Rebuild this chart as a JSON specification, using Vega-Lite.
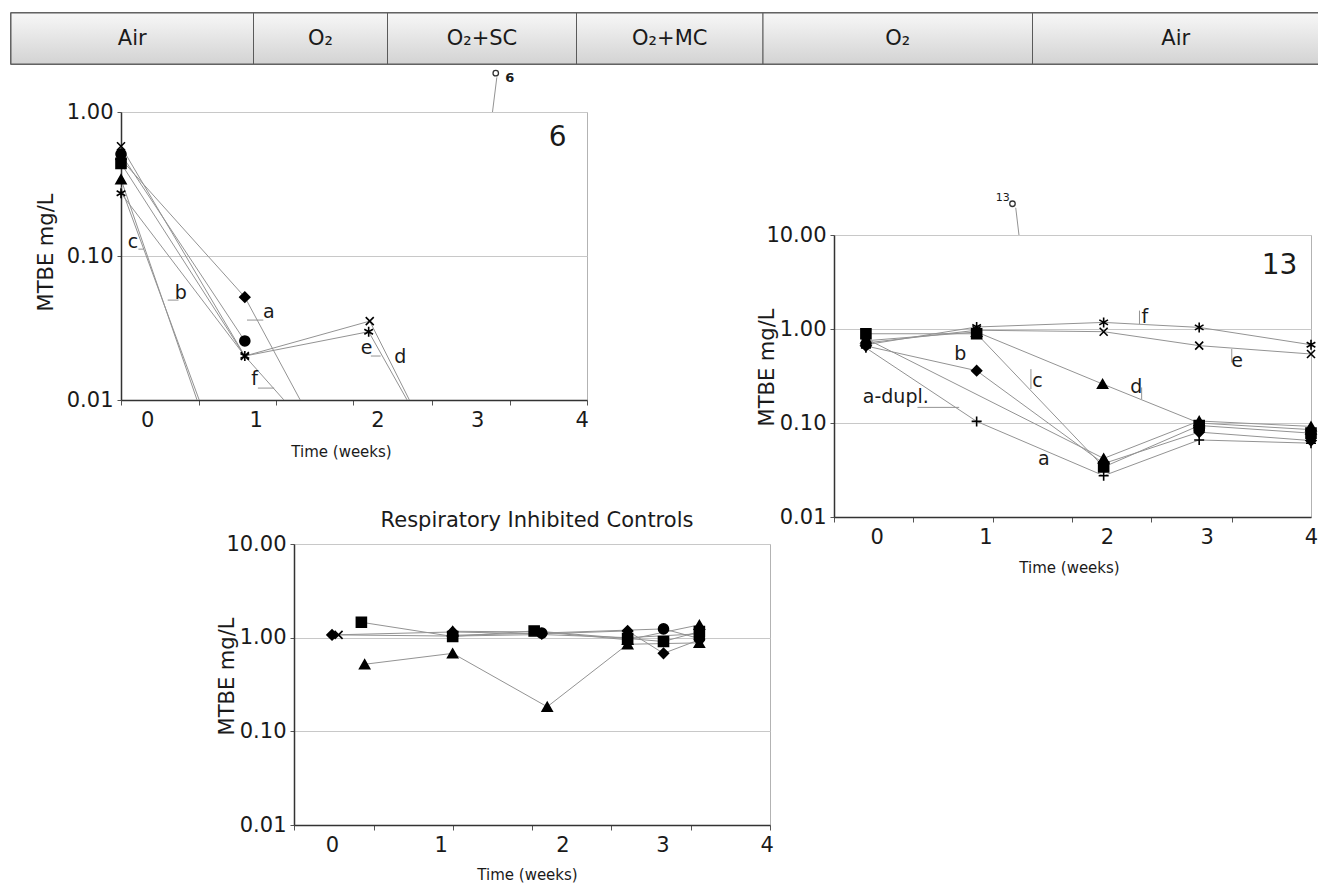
{
  "$schema": "https://vega.github.io/schema/vega-lite/v6.json",
  "padding": {"left": 9, "top": 11, "right": 0, "bottom": 4},
  "background": "white",
  "bounds": "flush",
  "spacing": 48,
  "config": {
    "font": "DejaVu Sans",
    "view": {"stroke": "#b3b3b3", "strokeWidth": 1},
    "axis": {"labelFont": "DejaVu Sans", "titleFont": "DejaVu Sans", "labelColor": "#1a1a1a", "titleColor": "#1a1a1a", "titleFontWeight": "normal"},
    "text": {"font": "DejaVu Sans"},
    "title": {"font": "DejaVu Sans"}
  },
  "datasets": {
    "hdr": [
      {"seg": "Air", "a": 0, "b": 242.5},
      {"seg": "O₂", "a": 242.5, "b": 376.5},
      {"seg": "O₂+SC", "a": 376.5, "b": 565.5},
      {"seg": "O₂+MC", "a": 565.5, "b": 752},
      {"seg": "O₂", "a": 752, "b": 1021.5},
      {"seg": "Air", "a": 1021.5, "b": 1308}
    ],
    "p6": [
      {"s": "a", "m": "diamond", "t": -0.24, "v": 0.47},
      {"s": "a", "m": "diamond", "t": 0.9, "v": 0.0518},
      {"s": "a", "m": "none", "t": 1.41, "v": 0.01},
      {"s": "ci", "m": "circle", "t": -0.24, "v": 0.51},
      {"s": "ci", "m": "circle", "t": 0.9, "v": 0.0257},
      {"s": "f", "m": "square", "t": -0.24, "v": 0.44},
      {"s": "f", "m": "none", "t": 0.9, "v": 0.0202},
      {"s": "f", "m": "none", "t": 1.26, "v": 0.01},
      {"s": "e", "m": "asterisk", "t": -0.24, "v": 0.273},
      {"s": "e", "m": "asterisk", "t": 0.9, "v": 0.0202},
      {"s": "e", "m": "asterisk", "t": 2.04, "v": 0.0298},
      {"s": "e", "m": "none", "t": 2.394, "v": 0.01},
      {"s": "d", "m": "x", "t": -0.24, "v": 0.578},
      {"s": "d", "m": "x", "t": 0.9, "v": 0.0202},
      {"s": "d", "m": "x", "t": 2.05, "v": 0.0353},
      {"s": "d", "m": "none", "t": 2.415, "v": 0.01},
      {"s": "c", "m": "triangle", "t": -0.24, "v": 0.341},
      {"s": "c", "m": "none", "t": 0.46, "v": 0.01},
      {"s": "b", "m": "none", "t": -0.24, "v": 0.3},
      {"s": "b", "m": "none", "t": 0.48, "v": 0.01}
    ],
    "p6lab": [
      {"txt": "a", "k": "lab", "t": 1.12, "v": 0.0408},
      {"txt": "b", "k": "lab", "t": 0.31, "v": 0.0552},
      {"txt": "c", "k": "lab", "t": -0.13, "v": 0.125},
      {"txt": "f", "k": "lab", "t": 0.99, "v": 0.014},
      {"txt": "e", "k": "lab", "t": 2.02, "v": 0.0229},
      {"txt": "d", "k": "lab", "t": 2.33, "v": 0.0199},
      {"txt": "6", "k": "num", "t": 3.78, "v": 0.656},
      {"txt": "6", "k": "call", "t": 3.34, "v": 1.72}
    ],
    "p6lead": [
      {"t": 0.92, "v": 0.0359, "t2": 1.07, "v2": 0.0359},
      {"t": 0.19, "v": 0.0494, "t2": 0.29, "v2": 0.0494},
      {"t": -0.08, "v": 0.1116, "t2": -0.03, "v2": 0.1116},
      {"t": 1.02, "v": 0.0121, "t2": 1.17, "v2": 0.0121},
      {"t": 2.06, "v": 0.0202, "t2": 2.15, "v2": 0.0202},
      {"t": 3.22, "v": 1.74, "t2": 3.18, "v2": 1.0}
    ],
    "p6ann": [{"t": 3.21, "v": 1.86}],
    "p13": [
      {"s": "a", "m": "triangle", "t": -0.1, "v": 0.79},
      {"s": "a", "m": "triangle", "t": 2.09, "v": 0.042},
      {"s": "a", "m": "triangle", "t": 2.97, "v": 0.105},
      {"s": "a", "m": "triangle", "t": 4.0, "v": 0.092},
      {"s": "ad", "m": "plus", "t": -0.1, "v": 0.63},
      {"s": "ad", "m": "plus", "t": 0.92, "v": 0.104},
      {"s": "ad", "m": "plus", "t": 2.09, "v": 0.0275},
      {"s": "ad", "m": "plus", "t": 2.97, "v": 0.066},
      {"s": "ad", "m": "plus", "t": 4.0, "v": 0.061},
      {"s": "b", "m": "diamond", "t": -0.1, "v": 0.66},
      {"s": "b", "m": "diamond", "t": 0.92, "v": 0.36},
      {"s": "b", "m": "diamond", "t": 2.09, "v": 0.037},
      {"s": "b", "m": "diamond", "t": 2.97, "v": 0.08},
      {"s": "b", "m": "diamond", "t": 4.0, "v": 0.065},
      {"s": "c", "m": "square", "t": -0.1, "v": 0.89},
      {"s": "c", "m": "square", "t": 0.92, "v": 0.89},
      {"s": "c", "m": "square", "t": 2.09, "v": 0.034},
      {"s": "c", "m": "square", "t": 2.97, "v": 0.094},
      {"s": "c", "m": "square", "t": 4.0, "v": 0.078},
      {"s": "d", "m": "triangle", "t": -0.1, "v": 0.75},
      {"s": "d", "m": "triangle", "t": 0.92, "v": 0.93},
      {"s": "d", "m": "triangle", "t": 2.08, "v": 0.26},
      {"s": "d", "m": "triangle", "t": 2.97, "v": 0.1},
      {"s": "d", "m": "triangle", "t": 4.0, "v": 0.085},
      {"s": "e", "m": "x", "t": -0.1, "v": 0.71},
      {"s": "e", "m": "x", "t": 0.92, "v": 0.97},
      {"s": "e", "m": "x", "t": 2.09, "v": 0.936},
      {"s": "e", "m": "x", "t": 2.97, "v": 0.665},
      {"s": "e", "m": "x", "t": 4.0, "v": 0.542},
      {"s": "f", "m": "asterisk", "t": -0.1, "v": 0.68},
      {"s": "f", "m": "asterisk", "t": 0.92, "v": 1.05},
      {"s": "f", "m": "asterisk", "t": 2.09, "v": 1.175},
      {"s": "f", "m": "asterisk", "t": 2.97, "v": 1.04},
      {"s": "f", "m": "asterisk", "t": 4.0, "v": 0.68}
    ],
    "p13lab": [
      {"txt": "f", "k": "lab", "t": 2.47, "v": 1.33},
      {"txt": "e", "k": "lab", "t": 3.32, "v": 0.46},
      {"txt": "b", "k": "lab", "t": 0.77, "v": 0.54},
      {"txt": "c", "k": "lab", "t": 1.48, "v": 0.28},
      {"txt": "d", "k": "lab", "t": 2.39, "v": 0.239},
      {"txt": "a", "k": "lab", "t": 1.54, "v": 0.0414},
      {"txt": "a-dupl.", "k": "lab", "t": 0.175, "v": 0.187},
      {"txt": "13", "k": "num", "t": 3.71, "v": 4.71},
      {"txt": "13", "k": "call", "t": 1.16, "v": 24.9}
    ],
    "p13lead": [
      {"t": 2.42, "v": 1.57, "t2": 2.42, "v2": 1.13},
      {"t": 3.27, "v": 0.613, "t2": 3.27, "v2": 0.44},
      {"t": 1.42, "v": 0.375, "t2": 1.42, "v2": 0.23},
      {"t": 2.44, "v": 0.239, "t2": 2.44, "v2": 0.18},
      {"t": 0.375, "v": 0.1466, "t2": 0.759, "v2": 0.1466},
      {"t": 1.28, "v": 19.5, "t2": 1.31, "v2": 10}
    ],
    "p13ann": [{"t": 1.25, "v": 21.5}],
    "ctl": [
      {"s": "sq", "m": "square", "t": 0.27, "v": 1.46},
      {"s": "sq", "m": "square", "t": 1.11, "v": 1.03},
      {"s": "sq", "m": "square", "t": 1.86, "v": 1.18},
      {"s": "sq", "m": "square", "t": 2.72, "v": 0.98},
      {"s": "sq", "m": "square", "t": 3.05, "v": 0.91},
      {"s": "sq", "m": "square", "t": 3.38, "v": 1.16},
      {"s": "tr", "m": "triangle", "t": 0.3, "v": 0.52},
      {"s": "tr", "m": "triangle", "t": 1.11, "v": 0.68},
      {"s": "tr", "m": "triangle", "t": 1.98, "v": 0.183},
      {"s": "tr", "m": "triangle", "t": 2.72, "v": 0.85},
      {"s": "tr", "m": "triangle", "t": 3.38, "v": 0.88},
      {"s": "di", "m": "diamond", "t": 0.0, "v": 1.07},
      {"s": "di", "m": "diamond", "t": 1.11, "v": 1.15},
      {"s": "di", "m": "diamond", "t": 1.93, "v": 1.1},
      {"s": "di", "m": "diamond", "t": 2.72, "v": 1.18},
      {"s": "di", "m": "diamond", "t": 3.05, "v": 0.68},
      {"s": "di", "m": "diamond", "t": 3.38, "v": 0.95},
      {"s": "ci", "m": "circle", "t": 1.11, "v": 1.06},
      {"s": "ci", "m": "circle", "t": 1.93, "v": 1.12},
      {"s": "ci", "m": "circle", "t": 3.05, "v": 1.24},
      {"s": "ci", "m": "circle", "t": 3.38, "v": 0.98},
      {"s": "xx", "m": "x", "t": 0.06, "v": 1.07},
      {"s": "xx", "m": "none", "t": 1.11, "v": 1.04},
      {"s": "xx", "m": "none", "t": 1.93, "v": 1.08},
      {"s": "xx", "m": "none", "t": 2.72, "v": 1.0},
      {"s": "xx", "m": "none", "t": 3.38, "v": 1.1},
      {"s": "t2", "m": "triangle", "t": 1.11, "v": 1.17},
      {"s": "t2", "m": "none", "t": 1.93, "v": 1.15},
      {"s": "t2", "m": "triangle", "t": 2.72, "v": 0.95},
      {"s": "t2", "m": "triangle", "t": 3.38, "v": 1.37}
    ]
  },
  "vconcat": [
    {
      "width": 1308,
      "height": 51,
      "data": {"name": "hdr"},
      "view": {"stroke": "#3d3d3d", "strokeWidth": 1.5},
      "encoding": {
        "x": {"field": "a", "type": "quantitative", "scale": {"domain": [0, 1308], "nice": false, "zero": false}, "axis": null}
      },
      "layer": [
        {
          "mark": {
            "type": "rect",
            "fill": {"gradient": "linear", "x1": 0, "y1": 0, "x2": 0, "y2": 1, "stops": [{"offset": 0, "color": "#f7f7f7"}, {"offset": 1, "color": "#d3d3d3"}]},
            "stroke": "#5a5a5a",
            "strokeWidth": 1
          },
          "encoding": {"x2": {"field": "b"}}
        },
        {
          "transform": [{"calculate": "(datum.a + datum.b) / 2", "as": "mid"}],
          "mark": {"type": "text", "fontSize": 21, "color": "#1a1a1a"},
          "encoding": {
            "x": {"field": "mid", "type": "quantitative", "axis": null},
            "text": {"field": "seg"}
          }
        }
      ]
    },
    {
      "hconcat": [
        {"width": 100, "height": 5, "data": {"values": []}, "mark": "point", "view": {"stroke": null}},
        {
          "vconcat": [
            {
              "width": 466,
              "height": 288,
              "encoding": {
                "x": {
                  "field": "t", "type": "quantitative",
                  "scale": {"domain": [-0.24, 4.05], "nice": false, "zero": false},
                  "axis": {
                    "title": "Time (weeks)",
                    "values": [-0.24, 0, 0.48, 1, 1.19, 1.9, 2.12, 2.62, 3.04, 3.34, 4, 4.05],
                    "labelExpr": "indexof([0,1,2.12,3.04,4], datum.value) >= 0 ? format(round(datum.value), 'd') : ''",
                    "tickOpacity": {"condition": {"test": "indexof([0,1,2.12,3.04,4], datum.value) >= 0", "value": 0}, "value": 1},
                    "tickSize": 5, "tickColor": "#555", "labelFontSize": 21, "labelPadding": 4,
                    "labelOverlap": false, "labelFlush": false, "grid": false,
                    "domainColor": "#333", "domainWidth": 1.5,
                    "titleFontSize": 15, "titleX": 220, "titleY": 51, "titleBaseline": "middle", "titleAlign": "center"
                  }
                },
                "y": {
                  "field": "v", "type": "quantitative",
                  "scale": {"type": "log", "domain": [0.01, 1], "nice": false},
                  "axis": {
                    "title": "MTBE mg/L", "values": [0.01, 0.1, 1], "format": ".2f",
                    "grid": true, "gridColor": "#c8c8c8", "tickSize": 4, "tickColor": "#555", "labelPadding": 4,
                    "labelFontSize": 21, "labelFlush": false, "labelOverlap": false,
                    "domainColor": "#333", "domainWidth": 1.5,
                    "titleFontSize": 21, "titleX": -75, "titleY": 140, "titleAngle": -90, "titleBaseline": "middle", "titleAlign": "center"
                  }
                }
              },
              "layer": [
                {"data": {"name": "p6"}, "mark": {"type": "line", "color": "#939393", "strokeWidth": 1}, "encoding": {"detail": {"field": "s"}, "order": {"field": "t", "type": "quantitative"}}},
                {"data": {"name": "p6"}, "transform": [{"filter": "datum.m != 'none'"}],
                 "mark": {"type": "point", "filled": true, "fill": "black", "stroke": "black", "strokeWidth": 1.6, "opacity": 1, "size": 100},
                 "encoding": {"shape": {"field": "m", "type": "nominal", "legend": null,
                   "scale": {"domain": ["diamond", "circle", "square", "triangle", "x", "asterisk", "plus"],
                             "range": ["diamond", "circle", "square", "triangle-up", "M-0.8,-0.8L0.8,0.8M-0.8,0.8L0.8,-0.8", "M0,-1L0,1M-0.87,-0.5L0.87,0.5M-0.87,0.5L0.87,-0.5", "M-1,0L1,0M0,-1L0,1"]}}}},
                {"data": {"name": "p6lead"}, "mark": {"type": "rule", "color": "#939393", "strokeWidth": 1}, "encoding": {"x2": {"field": "t2"}, "y2": {"field": "v2"}}},
                {"data": {"name": "p6ann"}, "mark": {"type": "point", "shape": "circle", "filled": false, "stroke": "#333", "strokeWidth": 1.3, "size": 30, "opacity": 1}, "encoding": {}},
                {"data": {"name": "p6lab"}, "transform": [{"filter": "datum.k == 'lab'"}], "mark": {"type": "text", "color": "#1a1a1a", "align": "center", "baseline": "middle", "fontSize": 19}, "encoding": {"text": {"field": "txt"}}},
                {"data": {"name": "p6lab"}, "transform": [{"filter": "datum.k == 'num'"}], "mark": {"type": "text", "color": "#1a1a1a", "align": "center", "baseline": "middle", "fontSize": 28}, "encoding": {"text": {"field": "txt"}}},
                {"data": {"name": "p6lab"}, "transform": [{"filter": "datum.k == 'call'"}], "mark": {"type": "text", "color": "#1a1a1a", "align": "center", "baseline": "middle", "fontSize": 13, "fontWeight": "bold"}, "encoding": {"text": {"field": "txt"}}}
              ]
            },
            {
              "hconcat": [
                {"width": 173, "height": 5, "data": {"values": []}, "mark": "point", "view": {"stroke": null}},
                {
                  "width": 476,
                  "height": 281,
                  "title": {"text": "Respiratory Inhibited Controls", "fontSize": 21, "fontWeight": "normal", "color": "#1a1a1a", "frame": "group", "anchor": "middle", "baseline": "alphabetic", "offset": 15, "dx": 5, "dy": 30},
                  "data": {"name": "ctl"},
                  "encoding": {
                    "x": {
                      "field": "t", "type": "quantitative",
                      "scale": {"domain": [-0.35, 4.03], "nice": false, "zero": false},
                      "axis": {
                        "title": "Time (weeks)",
                        "values": [-0.35, 0, 0.383, 1, 1.11, 1.84, 2.12, 2.57, 3.04, 3.3, 4, 4.03],
                        "labelExpr": "indexof([0,1,2.12,3.04,4], datum.value) >= 0 ? format(round(datum.value), 'd') : ''",
                        "tickOpacity": {"condition": {"test": "indexof([0,1,2.12,3.04,4], datum.value) >= 0", "value": 0}, "value": 1},
                        "tickSize": 5, "tickColor": "#555", "labelFontSize": 21, "labelPadding": 4,
                        "labelOverlap": false, "labelFlush": false, "grid": false,
                        "domainColor": "#333", "domainWidth": 1.5,
                        "titleFontSize": 15, "titleX": 233, "titleY": 49, "titleBaseline": "middle", "titleAlign": "center"
                      }
                    },
                    "y": {
                      "field": "v", "type": "quantitative",
                      "scale": {"type": "log", "domain": [0.01, 10], "nice": false},
                      "axis": {
                        "title": "MTBE mg/L", "values": [0.01, 0.1, 1, 10], "format": ".2f",
                        "grid": true, "gridColor": "#c8c8c8", "tickSize": 4, "tickColor": "#555", "labelPadding": 4,
                        "labelFontSize": 21, "labelFlush": false, "labelOverlap": false,
                        "domainColor": "#333", "domainWidth": 1.5,
                        "titleFontSize": 21, "titleX": -67, "titleY": 132, "titleAngle": -90, "titleBaseline": "middle", "titleAlign": "center"
                      }
                    }
                  },
                  "layer": [
                    {"mark": {"type": "line", "color": "#939393", "strokeWidth": 1}, "encoding": {"detail": {"field": "s"}, "order": {"field": "t", "type": "quantitative"}}},
                    {"transform": [{"filter": "datum.m != 'none'"}],
                     "mark": {"type": "point", "filled": true, "fill": "black", "stroke": "black", "strokeWidth": 1.6, "opacity": 1, "size": 100},
                     "encoding": {"shape": {"field": "m", "type": "nominal", "legend": null,
                       "scale": {"domain": ["diamond", "circle", "square", "triangle", "x", "asterisk", "plus"],
                                 "range": ["diamond", "circle", "square", "triangle-up", "M-0.8,-0.8L0.8,0.8M-0.8,0.8L0.8,-0.8", "M0,-1L0,1M-0.87,-0.5L0.87,0.5M-0.87,0.5L0.87,-0.5", "M-1,0L1,0M0,-1L0,1"]}}}}
                  ]
                }
              ],
              "spacing": 0,
              "bounds": "flush"
            }
          ],
          "spacing": 144,
          "bounds": "flush"
        },
        {"width": 693, "height": 5, "data": {"values": []}, "mark": "point", "view": {"stroke": null}},
        {
          "vconcat": [
            {"width": 5, "height": 123, "data": {"values": []}, "mark": "point", "view": {"stroke": null}},
            {
              "width": 477,
              "height": 282,
              "encoding": {
                "x": {
                  "field": "t", "type": "quantitative",
                  "scale": {"domain": [-0.394, 4.0], "nice": false, "zero": false},
                  "axis": {
                    "title": "Time (weeks)",
                    "values": [-0.394, 0, 0.338, 1, 1.07, 1.8, 2.12, 2.53, 3.04, 3.27, 4],
                    "labelExpr": "indexof([0,1,2.12,3.04,4], datum.value) >= 0 ? format(round(datum.value), 'd') : ''",
                    "tickOpacity": {"condition": {"test": "indexof([0,1,2.12,3.04,4], datum.value) >= 0", "value": 0}, "value": 1},
                    "tickSize": 5, "tickColor": "#555", "labelFontSize": 21, "labelPadding": 4,
                    "labelOverlap": false, "labelFlush": false, "grid": false,
                    "domainColor": "#333", "domainWidth": 1.5,
                    "titleFontSize": 15, "titleX": 235, "titleY": 50, "titleBaseline": "middle", "titleAlign": "center"
                  }
                },
                "y": {
                  "field": "v", "type": "quantitative",
                  "scale": {"type": "log", "domain": [0.01, 10], "nice": false},
                  "axis": {
                    "title": "MTBE mg/L", "values": [0.01, 0.1, 1, 10], "format": ".2f",
                    "grid": true, "gridColor": "#c8c8c8", "tickSize": 4, "tickColor": "#555", "labelPadding": 4,
                    "labelFontSize": 21, "labelFlush": false, "labelOverlap": false,
                    "domainColor": "#333", "domainWidth": 1.5,
                    "titleFontSize": 21, "titleX": -67, "titleY": 132, "titleAngle": -90, "titleBaseline": "middle", "titleAlign": "center"
                  }
                }
              },
              "layer": [
                {"data": {"name": "p13"}, "mark": {"type": "line", "color": "#939393", "strokeWidth": 1}, "encoding": {"detail": {"field": "s"}, "order": {"field": "t", "type": "quantitative"}}},
                {"data": {"name": "p13"}, "transform": [{"filter": "datum.m != 'none'"}],
                 "mark": {"type": "point", "filled": true, "fill": "black", "stroke": "black", "strokeWidth": 1.6, "opacity": 1, "size": 100},
                 "encoding": {"shape": {"field": "m", "type": "nominal", "legend": null,
                   "scale": {"domain": ["diamond", "circle", "square", "triangle", "x", "asterisk", "plus"],
                             "range": ["diamond", "circle", "square", "triangle-up", "M-0.8,-0.8L0.8,0.8M-0.8,0.8L0.8,-0.8", "M0,-1L0,1M-0.87,-0.5L0.87,0.5M-0.87,0.5L0.87,-0.5", "M-1,0L1,0M0,-1L0,1"]}}}},
                {"data": {"name": "p13lead"}, "mark": {"type": "rule", "color": "#939393", "strokeWidth": 1}, "encoding": {"x2": {"field": "t2"}, "y2": {"field": "v2"}}},
                {"data": {"name": "p13ann"}, "mark": {"type": "point", "shape": "circle", "filled": false, "stroke": "#333", "strokeWidth": 1.3, "size": 30, "opacity": 1}, "encoding": {}},
                {"data": {"name": "p13lab"}, "transform": [{"filter": "datum.k == 'lab'"}], "mark": {"type": "text", "color": "#1a1a1a", "align": "center", "baseline": "middle", "fontSize": 19}, "encoding": {"text": {"field": "txt"}}},
                {"data": {"name": "p13lab"}, "transform": [{"filter": "datum.k == 'num'"}], "mark": {"type": "text", "color": "#1a1a1a", "align": "center", "baseline": "middle", "fontSize": 28}, "encoding": {"text": {"field": "txt"}}},
                {"data": {"name": "p13lab"}, "transform": [{"filter": "datum.k == 'call'"}], "mark": {"type": "text", "color": "#1a1a1a", "align": "center", "baseline": "middle", "fontSize": 11}, "encoding": {"text": {"field": "txt"}}}
              ]
            }
          ],
          "spacing": 0,
          "bounds": "flush"
        }
      ],
      "spacing": 10,
      "bounds": "flush"
    }
  ]
}
